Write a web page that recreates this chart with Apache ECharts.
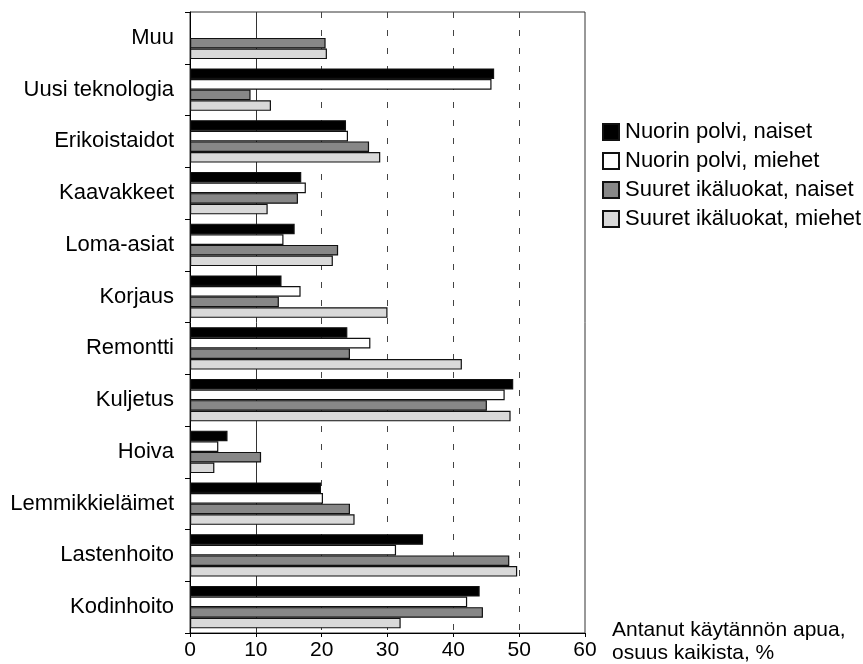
<!DOCTYPE html>
<html>
<head>
<meta charset="utf-8">
<script src="https://cdn.jsdelivr.net/npm/echarts@6/dist/echarts.min.js"></script>
<style>
html,body{margin:0;padding:0;background:#fff;}
#chart{width:863px;height:664px;}
</style>
</head>
<body>
<div id="chart"></div>
<script>
const categories = ['Muu','Uusi teknologia','Erikoistaidot','Kaavakkeet','Loma-asiat','Korjaus','Remontti','Kuljetus','Hoiva','Lemmikkieläimet','Lastenhoito','Kodinhoito'];
const nuorinNaiset = [null, 46.2, 23.7, 16.9, 15.9, 13.9, 23.9, 49.1, 5.7, 19.9, 35.4, 44.0];
const nuorinMiehet = [null, 45.8, 24.0, 17.6, 14.2, 16.8, 27.4, 47.8, 4.3, 20.2, 31.3, 42.1];
const suuretNaiset = [20.6, 9.2, 27.2, 16.4, 22.5, 13.5, 24.3, 45.1, 10.8, 24.3, 48.5, 44.5];
const suuretMiehet = [20.8, 12.3, 28.9, 11.8, 21.7, 30.0, 41.3, 48.7, 3.7, 25.0, 49.7, 32.0];
const seriesNames = ['Nuorin polvi, naiset','Nuorin polvi, miehet','Suuret ikäluokat, naiset','Suuret ikäluokat, miehet'];
const footnote = 'Antanut käytännön apua,\nosuus kaikista, %';

const FONT = '"Liberation Sans", Arial, Helvetica, sans-serif';
const fills = ['#000000','#ffffff','#878787','#d9d9d9'];
const T = 'rgba(0,0,0,0)';

const chart = echarts.init(document.getElementById('chart'), null, {renderer:'canvas'});
const dataSets = [nuorinNaiset, nuorinMiehet, suuretNaiset, suuretMiehet];

const option = {
  backgroundColor: '#ffffff',
  animation: false,
  textStyle: {fontFamily: FONT},
  grid: {left: 190, right: 278, top: 12, bottom: 31, show: true, borderColor: '#333', borderWidth: 1, backgroundColor: 'transparent'},
  legend: {
    orient: 'vertical', left: 597, top: 116, icon: 'rect',
    itemWidth: 16, itemHeight: 16, itemGap: 7,
    textStyle: {fontSize: 22, color: '#000', fontFamily: FONT, padding: [0, 0, 0, 1]},
    data: seriesNames
  },
  xAxis: [{
    type: 'value', min: 0, max: 60, interval: 10, position: 'bottom',
    axisLine: {show: true, lineStyle: {color: '#000', width: 1}},
    axisTick: {show: true, length: 4, lineStyle: {color: '#000'}},
    axisLabel: {fontSize: 21, color: '#000', margin: 7, fontFamily: FONT},
    splitLine: {show: true, showMinLine: false, showMaxLine: false,
      lineStyle: {type: [6, 12], width: 1, color: [T, '#444', '#444', '#444', '#444', T, T]}}
  },{
    type: 'value', min: 0, max: 60, interval: 10, position: 'top',
    axisLine: {show: false}, axisTick: {show: false}, axisLabel: {show: false},
    splitLine: {show: true, showMinLine: false, showMaxLine: false,
      lineStyle: {type: 'solid', width: 1, color: ['#333', T, T, T, T, T, T]}}
  }],
  yAxis: {
    type: 'category', inverse: true, data: categories,
    axisLine: {show: true, lineStyle: {color: '#000', width: 1}},
    axisTick: {show: true, length: 5, lineStyle: {color: '#000'}},
    axisLabel: {fontSize: 22, color: '#000', margin: 16, fontFamily: FONT},
    splitLine: {show: false}
  },
  series: dataSets.map((d, i) => ({
    name: seriesNames[i], type: 'bar', xAxisIndex: 0, data: d,
    barGap: '0%', barCategoryGap: '18%',
    itemStyle: {color: fills[i], borderColor: '#111', borderWidth: 1.2}
  })),
  graphic: [{
    type: 'text', left: 612, top: 619,
    style: {text: footnote, fontSize: 21, lineHeight: 23, fill: '#000', fontFamily: FONT}
  }]
};
chart.setOption(option);
</script>
</body>
</html>
